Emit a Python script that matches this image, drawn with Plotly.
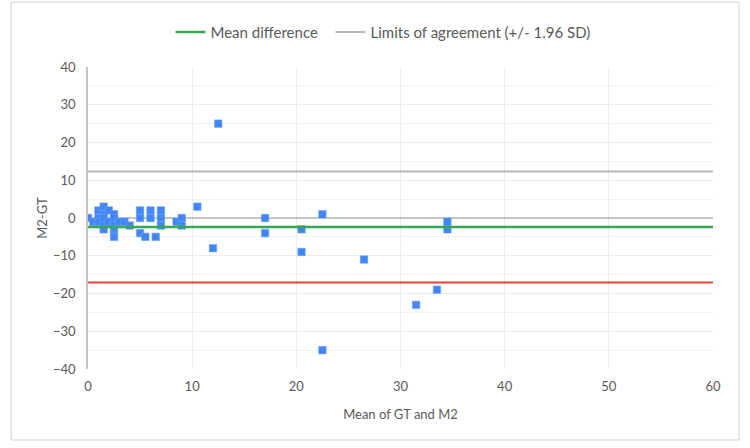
import plotly.graph_objects as go

# Data
mean_vals = [0, 0.5, 1, 1, 1, 1.5, 1.5, 1.5, 1.5, 1.5, 2, 2, 2.5, 2.5, 2.5, 2.5, 2.5, 3, 3.5, 4,
             5, 5, 5, 5.5, 6, 6, 6.5, 7, 7, 7, 8.5, 9, 9, 10.5, 12, 12.5,
             17, 17, 20.5, 20.5, 22.5, 22.5, 26.5, 31.5, 33.5, 34.5, 34.5]
diff_vals = [0, -1, 2, 0, -1, 3, 1, 0, -2, -3, 2, -1, 1, 0, -2, -3, -5, -1, -1, -2,
             2, 0, -4, -5, 2, 0, -5, 2, 0, -2, -1, 0, -2, 3, -8, 25,
             0, -4, -3, -9, 1, -35, -11, -23, -19, -1, -3]

mean_difference = -2.4
upper_limit = 12.3
lower_limit = -17.1
x_span = [0, 60]

x_ticks = [0, 10, 20, 30, 40, 50, 60]
y_ticks = [-40, -30, -20, -10, 0, 10, 20, 30, 40]

font_fam = "Lato, 'Open Sans', sans-serif"
txt_col = "#595959"

fig = go.Figure()

fig.add_trace(go.Scatter(
    x=mean_vals, y=diff_vals, mode="markers",
    marker=dict(symbol="square", size=7.5, color="#4285f4",
                line=dict(width=0.5, color="#6fa3f7")),
    showlegend=False, hoverinfo="x+y"))

fig.add_trace(go.Scatter(
    x=x_span, y=[mean_difference] * 2, mode="lines",
    line=dict(color="#34a853", width=2.5), name="Mean difference  "))

fig.add_trace(go.Scatter(
    x=x_span, y=[upper_limit] * 2, mode="lines",
    line=dict(color="#b7b7b7", width=2), name="Limits of agreement (+/- 1.96 SD)"))

fig.add_trace(go.Scatter(
    x=x_span, y=[lower_limit] * 2, mode="lines",
    line=dict(color="#ea4335", width=2), showlegend=False))

fig.update_layout(
    width=750, height=448,
    margin=dict(l=88, r=37, t=67, b=79),
    paper_bgcolor="white", plot_bgcolor="white",
    font=dict(family=font_fam, size=13, color=txt_col),
    legend=dict(orientation="h", x=0.472, xanchor="center", y=1.115, yanchor="middle",
                font=dict(size=15, color=txt_col), itemwidth=30,
                traceorder="normal", tracegroupgap=0),
    xaxis=dict(range=[0, 60], tickvals=x_ticks, showgrid=True, gridcolor="#ececec",
               gridwidth=1, zeroline=False, showline=False, ticks="",
               ticklabelstandoff=8,
               title=dict(text="Mean of GT and M2", font=dict(size=13, color=txt_col), standoff=16)),
    yaxis=dict(range=[-40, 40], tickvals=y_ticks, showgrid=True, gridcolor="#ececec",
               gridwidth=1, minor=dict(dtick=5, showgrid=True, gridcolor="#f2f2f2"),
               zeroline=True, zerolinecolor="#c4c4c4", zerolinewidth=1.5,
               showline=True, linecolor="#c4c4c4", linewidth=1.5, ticks="",
               ticklabelstandoff=8,
               title=dict(text="M2-GT", font=dict(size=13, color=txt_col), standoff=2)),
    shapes=[dict(type="rect", xref="paper", yref="paper",
                 x0=-0.123, x1=1.0415, y0=-0.235, y1=1.215,
                 line=dict(color="#d0d0d0", width=1), fillcolor="rgba(0,0,0,0)", layer="below")],
)

fig.write_html("out.html")
